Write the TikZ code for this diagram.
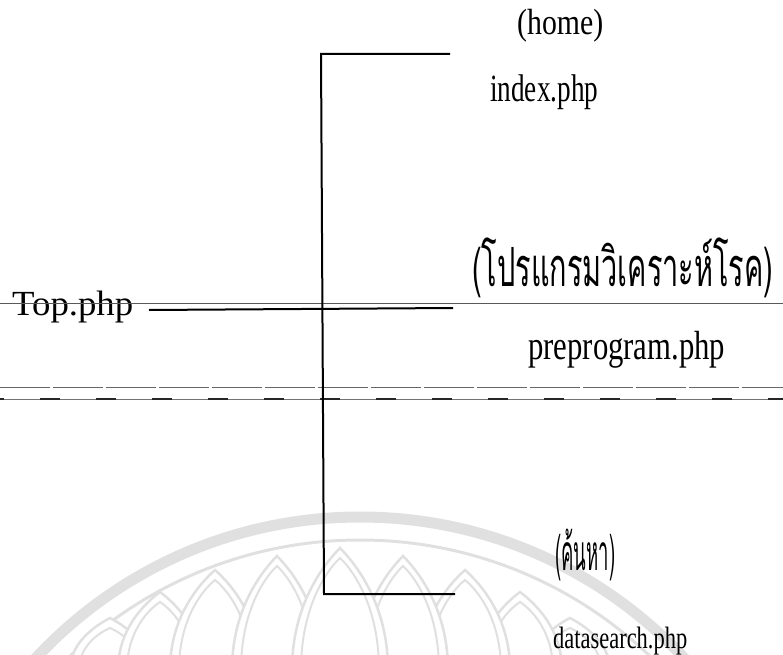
\documentclass[tikz,border=0pt]{standalone}
\usepackage{fontspec}
\setmainfont{Liberation Serif}
\newfontfamily\thaifont[Script=Thai]{Loma}

% fit a label into a box of given width and total height (in bp)
\newcommand\fitbox[3]{\resizebox*{#1bp}{#2bp}{#3}}

\tikzset{
  lbl/.style={inner sep=0pt, anchor=south west},
  trunk/.style={line width=2bp, black, line join=miter},
  rule/.style={line width=1bp, black!65},
  wm/.style={draw=black!12},
}

\begin{document}
\begin{tikzpicture}[x=1bp, y=-1bp]
  \useasboundingbox (0,0) rectangle (783,655);

  % faint emblem in the background
  \begin{scope}
    \clip (0,0) rectangle (783,655);
    \draw[wm, line width=11bp] (360,960) circle[radius=443bp];
    \draw[wm, line width=3bp] (360,960) circle[radius=420bp];
    \foreach \px/\pa/\pw in {110/618/40, 570/618/40, 160/592/42, 520/592/42,
                             215/570/45, 465/570/45, 277/556/45, 403/556/45,
                             340/548/48} {
      \filldraw[wm, fill=white, line width=2.5bp]
        (\px-\pw,670) .. controls (\px-\pw,{\pa+0.45*(670-\pa)}) and ({\px-0.3*\pw},{\pa+0.12*(670-\pa)}) .. (\px,\pa)
        .. controls ({\px+0.3*\pw},{\pa+0.12*(670-\pa)}) and (\px+\pw,{\pa+0.45*(670-\pa)}) .. (\px+\pw,670);
      \draw[wm, line width=2bp]
        (\px-\pw+9,670) .. controls (\px-\pw+9,{\pa+10+0.45*(660-\pa)}) and ({\px-0.3*\pw},{\pa+10+0.12*(660-\pa)}) .. (\px,\pa+10)
        .. controls ({\px+0.3*\pw},{\pa+10+0.12*(660-\pa)}) and (\px+\pw-9,{\pa+10+0.45*(660-\pa)}) .. (\px+\pw-9,670);
    }
  \end{scope}

  % page labels
  \node[lbl] (home)  at (517,42)  {\fitbox{86}{33}{(home)}};
  \node[lbl] (index) at (490,110) {\fitbox{108}{35}{index.php}};
  \node[lbl] (top)   at (12,323)  {\fitbox{121}{32}{Top.php}};
  \node[lbl] (thaiA) at (472,298) {\fitbox{301}{60}{\thaifont (โปรแกรมวิเคราะห์โรค)}};
  \node[lbl] (prep)  at (528,368) {\fitbox{197}{37}{preprogram.php}};
  \node[lbl] (thaiB) at (555,581) {\fitbox{60}{52}{\thaifont (ค้นหา)}};
  \node[lbl] (data)  at (553,655) {\fitbox{134}{28}{datasearch.php}};

  % thin rule across the page
  \coordinate (ruleL) at (0,303);
  \coordinate (ruleR) at (783,303);
  \draw[rule] (ruleL) -- (ruleR);

  % double separator lines
  \coordinate (sepAL) at (0,387);
  \coordinate (sepAR) at (783,387);
  \coordinate (sepBL) at (0,399);
  \coordinate (sepBR) at (783,399);
  \draw[line width=1bp, black!60, dash pattern=on 50bp off 3bp] (sepAL) -- (sepAR);
  \draw[line width=1bp, black!55] (sepBL) -- (sepBR);
  \draw[line width=2bp, black!85, dash pattern=on 20bp off 36bp, dash phase=-40bp] (sepBL) -- (sepBR);

  % link from Top.php
  \coordinate (topA) at (149,310);
  \coordinate (topB) at (453,308);
  \draw[trunk] (topA) -- (topB);

  % bracket joining the pages
  \coordinate (brTR) at (450,54);
  \coordinate (brTL) at (321,54);
  \coordinate (brBL) at (324,594);
  \coordinate (brBR) at (455,594);
  \draw[trunk] (brTR) -- (brTL) -- (brBL) -- (brBR);
\end{tikzpicture}
\end{document}
